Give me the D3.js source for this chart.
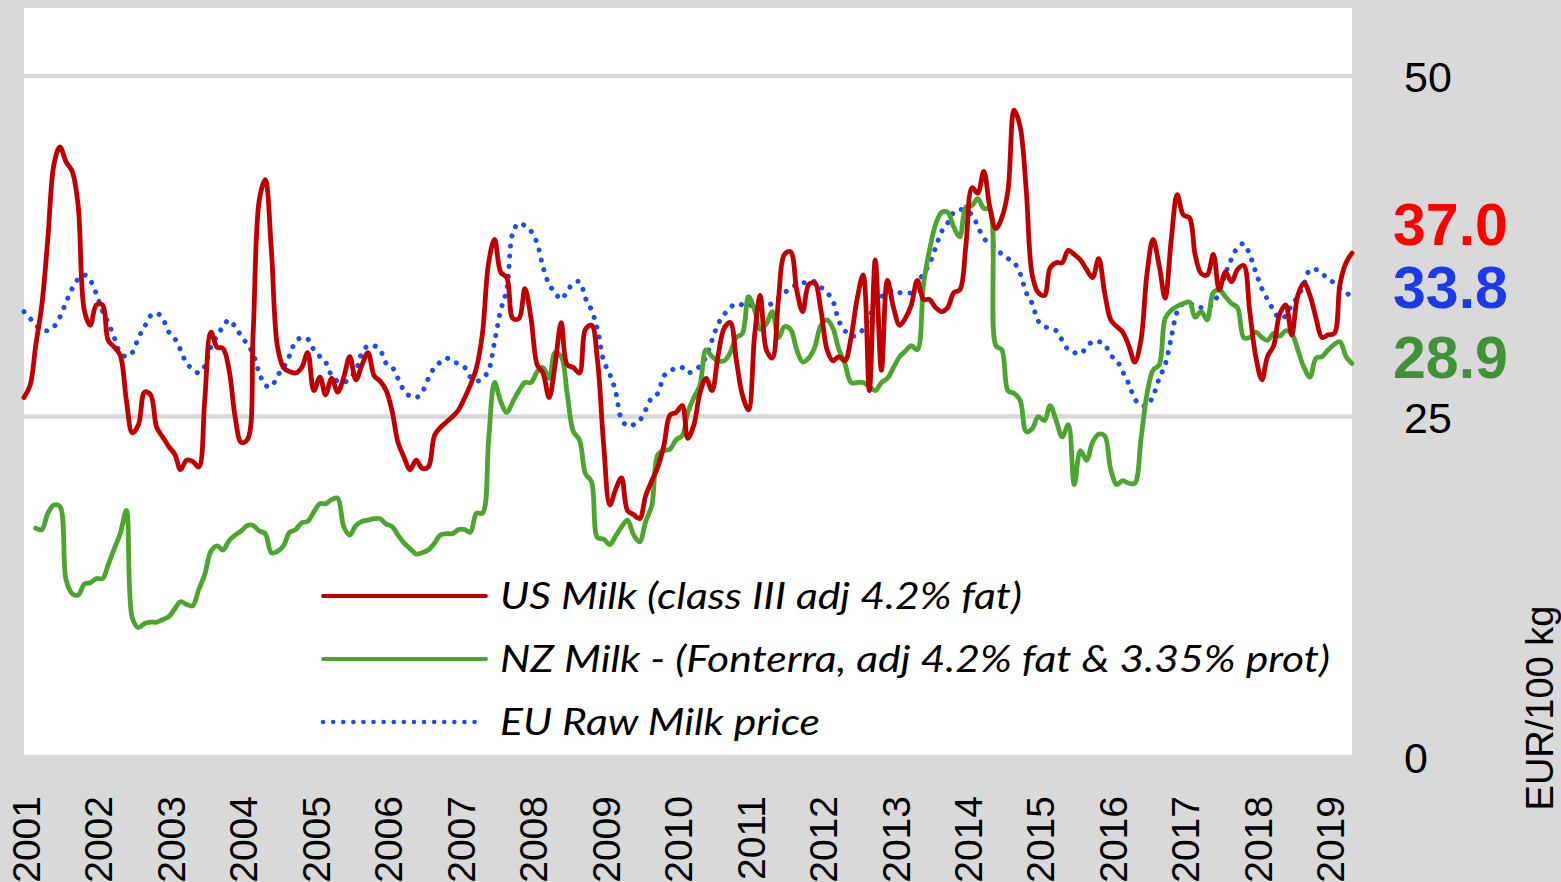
<!DOCTYPE html>
<html>
<head>
<meta charset="utf-8">
<script src="https://cdn.jsdelivr.net/npm/d3@7"></script>
<style>
    body { margin: 0; background: #d9d9d9; }
    svg { display: block; }
</style>
</head>
<body>
<div id="chart"></div>
<script>
// monthly prices, EUR/100 kg, Jan 2001 .. May 2019
const usMilk = [
    26.4, 27.3, 30.2, 33.2, 38.0, 43.5, 44.8, 43.7, 43.0, 40.5,
    32.8, 31.7, 33.2, 33.2, 30.6, 30.1, 29.5, 26.2, 23.8, 24.4,
    26.8, 26.6, 24.2, 23.5, 22.8, 22.2, 21.1, 21.8, 21.7, 21.3,
    26.2, 31.2, 30.1, 30.0, 28.4, 25.0, 23.1, 23.3, 31.1, 40.9,
    42.4, 37.2, 30.2, 28.6, 28.3, 28.2, 28.6, 29.7, 26.9, 27.9,
    26.6, 27.8, 26.8, 27.9, 29.4, 27.7, 28.8, 29.7, 28.0, 27.6,
    26.9, 25.3, 23.1, 22.0, 21.1, 21.8, 21.2, 21.3, 23.6, 24.2,
    24.6, 25.0, 25.5, 26.4, 27.3, 28.6, 31.1, 36.3, 38.0, 35.6,
    35.2, 32.2, 32.2, 34.4, 32.2, 28.8, 28.2, 26.4, 28.8, 31.9,
    28.8, 28.6, 28.2, 31.4, 31.7, 29.1, 22.9, 18.5, 19.6, 20.5,
    18.1, 17.8, 17.5, 19.2, 20.3, 21.3, 22.9, 25.1, 25.3, 25.8,
    23.4, 24.4, 26.7, 27.8, 26.9, 29.5, 31.5, 31.9, 29.1, 26.6,
    25.5, 31.0, 33.9, 29.9, 29.3, 33.6, 36.9, 37.1, 34.3, 32.7,
    34.7, 34.8, 32.8, 29.9, 29.1, 29.4, 29.1, 30.8, 33.6, 35.4,
    26.9, 36.5, 28.4, 35.0, 33.0, 31.7, 32.2, 33.2, 35.0, 33.6,
    33.6, 33.0, 32.7, 33.0, 34.1, 34.3, 37.6, 41.8, 41.4, 43.0,
    40.4, 38.8, 39.6, 41.6, 47.5, 46.3, 41.6, 35.4, 34.1, 33.9,
    35.9, 36.3, 36.3, 37.2, 36.9, 36.5, 35.8, 35.2, 36.6, 34.1,
    32.1, 31.6, 31.2, 30.2, 29.0, 30.6, 35.4, 38.0, 36.1, 33.7,
    38.0, 41.3, 39.8, 39.6, 36.9, 35.5, 35.4, 36.9, 34.3, 35.6,
    34.9, 35.8, 36.1, 32.8, 29.4, 27.7, 29.4, 30.2, 32.5, 33.2,
    31.0, 33.9, 34.8, 33.9, 32.2, 30.8, 31.0, 31.1, 34.7, 36.3, 37.0
];

const nzMilk = [
    null, null, 16.8, 16.7, 17.9, 18.5, 18.4, 13.0, 12.0, 11.9,
    12.7, 12.8, 13.1, 13.1, 14.1, 15.3, 16.4, 18.1, 10.2, 9.5,
    9.8, 9.9, 9.9, 10.1, 10.3, 10.9, 11.4, 11.2, 11.1, 12.3,
    13.4, 15.1, 15.5, 15.2, 15.9, 16.3, 16.6, 17.0, 17.0, 16.6,
    16.4, 15.0, 15.1, 15.5, 16.5, 16.7, 17.2, 17.3, 18.0, 18.6,
    18.6, 18.9, 19.0, 16.9, 16.3, 17.0, 17.3, 17.4, 17.5, 17.5,
    17.1, 16.9, 16.3, 15.7, 15.3, 14.9, 15.0, 15.2, 15.7, 16.3,
    16.4, 16.4, 16.7, 16.7, 16.5, 17.9, 17.9, 23.3, 27.5, 26.1,
    25.3, 26.1, 26.9, 27.5, 27.5, 28.3, 28.6, 27.8, 29.7, 29.4,
    26.7, 23.9, 23.3, 20.8, 20.2, 16.1, 16.0, 15.6, 16.2, 16.9,
    17.4, 16.3, 15.8, 17.3, 18.5, 22.2, 22.5, 22.6, 23.3, 23.6,
    25.3, 26.4, 27.3, 29.9, 29.4, 29.1, 29.1, 29.7, 30.8, 31.1,
    33.8, 32.8, 31.4, 31.8, 32.7, 30.8, 31.6, 31.4, 29.9, 29.0,
    29.3, 30.1, 31.7, 32.1, 31.5, 29.9, 28.9, 27.5, 27.5, 27.5,
    27.2, 26.9, 27.5, 27.8, 28.6, 29.4, 29.8, 30.2, 29.9, 34.7,
    37.2, 39.1, 40.0, 40.0, 38.9, 38.2, 40.4, 40.5, 41.0, 40.3,
    40.2, 30.2, 29.9, 26.9, 26.7, 26.2, 23.9, 24.1, 25.0, 24.7,
    25.8, 24.7, 23.5, 24.4, 20.0, 22.5, 21.8, 23.1, 23.7, 23.6,
    21.1, 20.0, 20.3, 20.1, 20.1, 23.3, 26.6, 28.4, 28.8, 32.2,
    32.8, 33.1, 33.3, 33.4, 32.3, 32.7, 32.1, 34.1, 34.3, 33.8,
    33.3, 33.0, 30.8, 30.8, 31.2, 30.8, 30.6, 31.1, 30.9, 31.3,
    31.1, 29.9, 28.6, 27.9, 29.3, 29.4, 29.9, 30.3, 30.5, 29.4, 28.9
];

const euMilk = [
    32.7, 32.2, 31.7, 31.4, 31.3, 31.6, 32.3, 33.4, 34.4, 35.1,
    35.4, 35.0, 34.0, 32.7, 31.9, 30.8, 29.7, 29.4, 29.7, 30.8,
    31.6, 32.4, 32.6, 32.2, 31.2, 30.7, 29.9, 28.9, 28.5, 28.2,
    28.7, 30.1, 30.9, 31.6, 32.1, 31.6, 30.9, 30.3, 29.6, 28.2,
    27.3, 27.2, 28.0, 28.6, 29.5, 30.5, 30.8, 30.7, 29.9, 29.4,
    29.0, 28.0, 27.6, 27.5, 27.8, 28.4, 29.7, 30.2, 30.2, 29.9,
    28.9, 28.6, 27.8, 26.9, 26.5, 26.4, 26.8, 27.8, 28.6, 29.0,
    29.3, 29.0, 28.9, 28.6, 27.9, 27.6, 27.8, 28.4, 30.5, 32.8,
    34.4, 38.5, 39.2, 39.0, 38.6, 37.7, 36.0, 34.7, 34.1, 33.6,
    34.2, 34.8, 34.9, 33.7, 32.8, 31.4, 29.1, 28.1, 26.9, 24.8,
    24.3, 24.4, 24.7, 25.5, 26.4, 26.7, 28.0, 28.3, 28.6, 28.6,
    28.2, 28.4, 28.7, 29.4, 30.6, 31.8, 32.5, 33.0, 33.3, 33.2,
    33.1, 33.3, 33.3, 33.2, 33.3, 33.7, 34.1, 34.4, 34.7, 34.8,
    34.9, 34.9, 34.5, 34.1, 33.5, 32.0, 31.3, 30.9, 31.0, 31.4,
    32.3, 33.3, 33.8, 34.1, 34.3, 34.1, 34.1, 34.1, 34.8, 35.5,
    36.2, 37.4, 38.6, 39.2, 40.0, 40.2, 40.1, 39.8, 39.0, 38.1,
    37.7, 37.4, 36.9, 36.6, 36.3, 35.5, 34.1, 33.3, 32.0, 31.6,
    31.5, 31.3, 30.6, 29.9, 29.7, 29.6, 30.1, 30.5, 30.5, 30.3,
    29.5, 29.1, 28.3, 27.4, 26.3, 25.8, 25.8, 26.5, 27.8, 28.8,
    30.8, 32.7, 33.3, 33.3, 33.1, 33.0, 33.0, 33.3, 34.2, 35.5,
    36.6, 37.4, 37.7, 36.9, 35.6, 34.4, 33.6, 32.8, 32.2, 32.4,
    33.2, 33.8, 34.7, 35.8, 35.8, 35.5, 35.1, 34.8, 34.4, 34.1, 33.8
];

const yearLabels = ["2001", "2002", "2003", "2004", "2005", "2006", "2007", "2008", "2009", "2010",
    "2011", "2012", "2013", "2014", "2015", "2016", "2017", "2018", "2019"];
const valueTicks = [0, 25, 50];
const seriesNames = [
    "US Milk (class III adj 4.2% fat)",
    "NZ Milk - (Fonterra, adj 4.2% fat & 3.35% prot)",
    "EU Raw Milk price"
];
const axisTitle = "EUR/100 kg";

const width = 1561;
const height = 882;

const months = d3.timeMonth.range(new Date(2001, 0, 1), new Date(2019, 5, 1));

const x = d3.scaleTime()
    .domain([months[0], months[months.length - 1]])
    .range([24, 1352]);

const y = d3.scaleLinear()
    .domain([0, 55])
    .range([757, 8]);

const series = [
    { name: seriesNames[0], values: usMilk, color: "#c00000", dash: null, labelColor: "#ff0000", labelShift: -29, textLen: 522 },
    { name: seriesNames[1], values: nzMilk, color: "#4ba52f", dash: null, labelColor: "#419139", labelShift: -7, textLen: 830 },
    { name: seriesNames[2], values: euMilk, color: "#1c4df0", dash: "0.1 10", labelColor: "#1c3ae8", labelShift: -10, textLen: 320 }
];

const svg = d3.select("#chart")
    .append("svg")
        .attr("width", width)
        .attr("height", height);

svg.append("rect")
    .attr("width", width)
    .attr("height", height)
    .attr("fill", "#d9d9d9");

// plot area
svg.append("rect")
    .attr("x", x.range()[0])
    .attr("y", y(55))
    .attr("width", x.range()[1] - x.range()[0])
    .attr("height", y(0) - y(55))
    .attr("fill", "#ffffff");

svg.append("g")
    .selectAll("line")
    .data(valueTicks)
    .enter()
    .append("line")
        .attr("x1", x.range()[0])
        .attr("x2", x.range()[1])
        .attr("y1", d => y(d))
        .attr("y2", d => y(d))
        .attr("stroke", "#d9d9d9")
        .attr("stroke-width", 4.5);

const lineGenerator = d3.line()
    .defined(d => d.v !== null)
    .x(d => x(d.date))
    .y(d => y(d.v))
    .curve(d3.curveCatmullRom);

// draw order: EU dotted first, then NZ, US on top
[series[2], series[1], series[0]].forEach(s => {
    const pts = s.values.map((v, i) => ({ date: months[i], v: v }));
    svg.append("path")
        .attr("d", lineGenerator(pts))
        .attr("fill", "none")
        .attr("stroke", s.color)
        .attr("stroke-width", s.dash ? 5 : 4.8)
        .attr("stroke-linecap", "round")
        .attr("stroke-linejoin", "round")
        .attr("stroke-dasharray", s.dash);
});

// legend
const legend = svg.append("g")
    .selectAll("g")
    .data(series)
    .enter()
    .append("g")
        .attr("transform", (d, i) => "translate(323," + (596 + i * 63) + ")");

legend.append("line")
    .attr("x1", 0)
    .attr("x2", d => d.dash ? 154 : 163)
    .attr("stroke", d => d.color)
    .attr("stroke-width", d => d.dash ? 4.5 : 3.8)
    .attr("stroke-linecap", "round")
    .attr("stroke-dasharray", d => d.dash);

legend.append("text")
    .attr("x", 177)
    .attr("dy", "0.36em")
    .style("font-family", "Lato, 'Open Sans', sans-serif")
    .style("font-style", "italic")
    .style("font-size", "37px")
    .style("fill", "#000000")
    .attr("textLength", d => d.textLen)
    .attr("lengthAdjust", "spacingAndGlyphs")
    .text(d => d.name);

// right value axis
const yAxis = svg.append("g")
    .attr("transform", "translate(1404,0)")
    .call(d3.axisRight(y).tickValues(valueTicks).tickSize(0).tickPadding(0));

yAxis.select(".domain").remove();
yAxis.selectAll("text")
    .attr("dy", "0.36em")
    .style("font-family", "'Liberation Sans', Arial, sans-serif")
    .style("font-size", "43px")
    .style("fill", "#000000");

// latest values
svg.append("g")
    .selectAll("text")
    .data(series)
    .enter()
    .append("text")
        .attr("x", 1393)
        .attr("y", d => y(d.values[d.values.length - 1]) + d.labelShift)
        .attr("dy", "0.36em")
        .style("font-family", "'Liberation Sans', Arial, sans-serif")
        .style("font-weight", "bold")
        .style("font-size", "59px")
        .style("fill", d => d.labelColor)
        .text(d => d3.format(".1f")(d.values[d.values.length - 1]));

// year labels
svg.append("g")
    .selectAll("text")
    .data(yearLabels)
    .enter()
    .append("text")
        .attr("transform", d => "translate(" + (x(new Date(+d, 0, 1)) + 2) + ",796) rotate(-90)")
        .attr("dy", "0.36em")
        .style("text-anchor", "end")
        .style("font-family", "'Liberation Sans', Arial, sans-serif")
        .style("font-size", "39px")
        .style("fill", "#000000")
        .text(d => d);

svg.append("text")
    .attr("transform", "translate(1539,708) rotate(-90)")
    .attr("dy", "0.36em")
    .style("text-anchor", "middle")
    .style("font-family", "'Liberation Sans', Arial, sans-serif")
    .style("font-size", "38px")
    .style("fill", "#000000")
    .text(axisTitle);
</script>
</body>
</html>
